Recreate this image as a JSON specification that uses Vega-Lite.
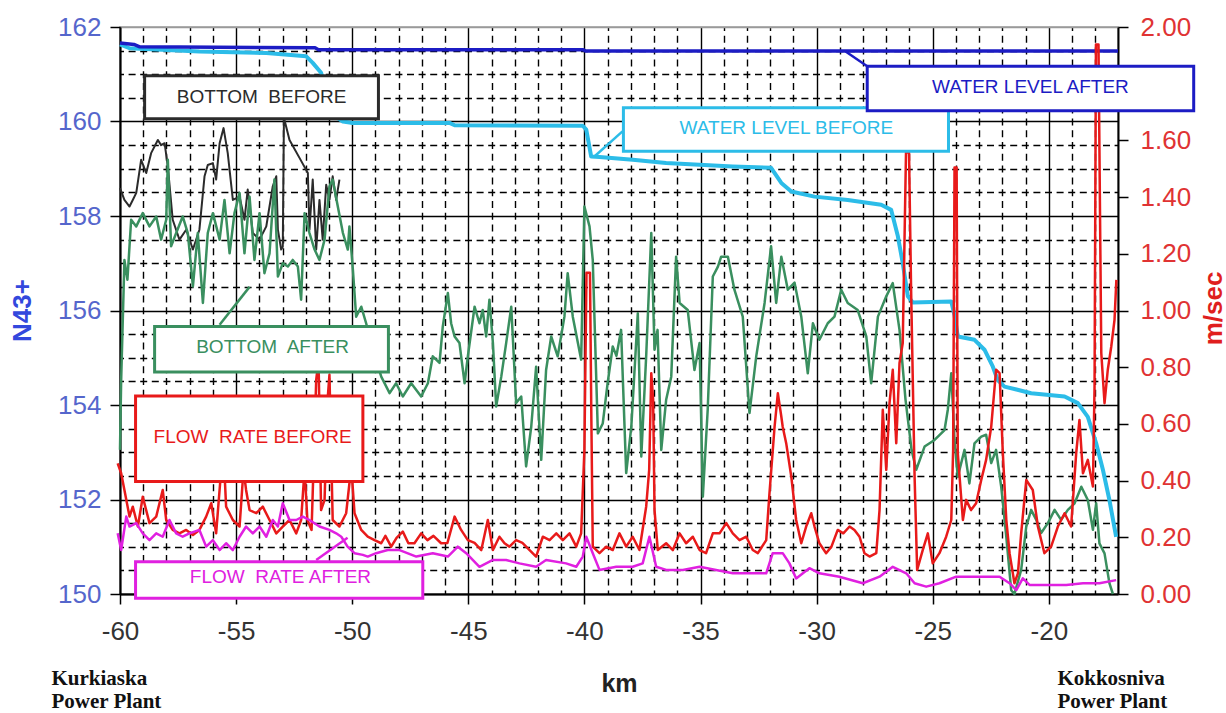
{
"$schema": "https://vega.github.io/schema/vega-lite/v6.json",
"width": 998, "height": 567,
"autosize": {"type": "none"},
"padding": {"left": 120, "top": 27, "right": 108, "bottom": 119},
"background": "white",
"config": {"view": {"stroke": "#9a9a9a", "strokeWidth": 1.5}, "font": "Liberation Sans"},
"datasets": {
"left": [
{"s":"BB","km":-60.00,"N":158.59},{"s":"BB","km":-59.81,"N":158.34},{"s":"BB","km":-59.59,"N":158.20},{"s":"BB","km":-59.45,"N":158.34},{"s":"BB","km":-59.30,"N":158.49},{"s":"BB","km":-59.09,"N":159.19},{"s":"BB","km":-58.87,"N":158.91},{"s":"BB","km":-58.66,"N":159.33},{"s":"BB","km":-58.37,"N":159.61},{"s":"BB","km":-58.23,"N":159.50},{"s":"BB","km":-58.08,"N":159.54},{"s":"BB","km":-57.94,"N":159.05},{"s":"BB","km":-57.73,"N":157.92},{"s":"BB","km":-57.44,"N":157.50},{"s":"BB","km":-57.15,"N":157.71},{"s":"BB","km":-56.86,"N":157.29},{"s":"BB","km":-56.58,"N":157.71},{"s":"BB","km":-56.36,"N":158.84},{"s":"BB","km":-56.22,"N":159.08},{"s":"BB","km":-56.00,"N":159.12},{"s":"BB","km":-55.86,"N":158.77},{"s":"BB","km":-55.71,"N":159.54},{"s":"BB","km":-55.54,"N":159.86},{"s":"BB","km":-55.36,"N":159.33},{"s":"BB","km":-55.14,"N":158.34},{"s":"BB","km":-54.85,"N":158.41},{"s":"BB","km":-54.64,"N":157.92},{"s":"BB","km":-54.50,"N":158.56},{"s":"BB","km":-54.28,"N":157.64},{"s":"BB","km":-53.99,"N":157.50},{"s":"BB","km":-53.70,"N":157.78},{"s":"BB","km":-53.42,"N":158.63},{"s":"BB","km":-53.27,"N":158.84},{"s":"BB","km":-53.20,"N":157.71},{"s":"BB","km":-53.06,"N":157.29},{"s":"BB","km":-52.99,"N":157.35},{"s":"BB","km":-52.94,"N":160.08},{"s":"BB","km":-52.70,"N":159.61},{"s":"BB","km":-52.27,"N":159.23},{"s":"BB","km":-51.91,"N":158.91},{"s":"BB","km":-51.84,"N":157.71},{"s":"BB","km":-51.70,"N":158.77},{"s":"BB","km":-51.55,"N":157.29},{"s":"BB","km":-51.41,"N":158.34},{"s":"BB","km":-51.27,"N":157.50},{"s":"BB","km":-51.12,"N":158.66},{"s":"BB","km":-50.98,"N":158.34},{"s":"BB","km":-50.84,"N":158.84},{"s":"BB","km":-50.69,"N":158.34},{"s":"BB","km":-50.55,"N":158.77},
{"s":"BA","km":-60.00,"N":153.05},{"s":"BA","km":-59.95,"N":154.53},{"s":"BA","km":-59.88,"N":155.80},{"s":"BA","km":-59.81,"N":157.07},{"s":"BA","km":-59.68,"N":156.65},{"s":"BA","km":-59.52,"N":157.92},{"s":"BA","km":-59.30,"N":157.78},{"s":"BA","km":-59.02,"N":158.06},{"s":"BA","km":-58.73,"N":157.78},{"s":"BA","km":-58.44,"N":157.99},{"s":"BA","km":-58.23,"N":157.50},{"s":"BA","km":-58.01,"N":157.92},{"s":"BA","km":-57.94,"N":159.19},{"s":"BA","km":-57.80,"N":157.36},{"s":"BA","km":-57.58,"N":157.64},{"s":"BA","km":-57.30,"N":157.99},{"s":"BA","km":-57.08,"N":157.64},{"s":"BA","km":-56.86,"N":156.51},{"s":"BA","km":-56.65,"N":157.64},{"s":"BA","km":-56.43,"N":156.16},{"s":"BA","km":-56.22,"N":157.64},{"s":"BA","km":-56.00,"N":158.06},{"s":"BA","km":-55.71,"N":157.50},{"s":"BA","km":-55.50,"N":158.34},{"s":"BA","km":-55.28,"N":157.21},{"s":"BA","km":-55.07,"N":158.06},{"s":"BA","km":-54.85,"N":158.49},{"s":"BA","km":-54.64,"N":157.21},{"s":"BA","km":-54.42,"N":158.41},{"s":"BA","km":-54.21,"N":157.07},{"s":"BA","km":-53.99,"N":158.06},{"s":"BA","km":-53.78,"N":156.79},{"s":"BA","km":-53.56,"N":157.21},{"s":"BA","km":-53.35,"N":158.77},{"s":"BA","km":-53.20,"N":156.72},{"s":"BA","km":-52.99,"N":157.00},{"s":"BA","km":-52.77,"N":156.93},{"s":"BA","km":-52.56,"N":157.07},{"s":"BA","km":-52.34,"N":156.93},{"s":"BA","km":-52.20,"N":156.23},{"s":"BA","km":-52.05,"N":158.06},{"s":"BA","km":-51.84,"N":157.64},{"s":"BA","km":-51.62,"N":157.29},{"s":"BA","km":-51.41,"N":157.07},{"s":"BA","km":-51.19,"N":157.50},{"s":"BA","km":-50.98,"N":158.63},{"s":"BA","km":-50.84,"N":158.77},{"s":"BA","km":-50.62,"N":158.20},{"s":"BA","km":-50.40,"N":157.64},{"s":"BA","km":-50.19,"N":157.29},{"s":"BA","km":-50.12,"N":157.78},{"s":"BA","km":-49.97,"N":156.86},{"s":"BA","km":-49.83,"N":155.87},{"s":"BA","km":-49.61,"N":156.08},{"s":"BA","km":-49.40,"N":155.73},{"s":"BA","km":-49.11,"N":155.17},{"s":"BA","km":-48.75,"N":154.60},{"s":"BA","km":-48.39,"N":154.25},{"s":"BA","km":-48.11,"N":154.46},{"s":"BA","km":-47.82,"N":154.18},{"s":"BA","km":-47.46,"N":154.46},{"s":"BA","km":-47.03,"N":154.18},{"s":"BA","km":-46.74,"N":154.46},{"s":"BA","km":-46.53,"N":155.03},{"s":"BA","km":-46.24,"N":154.89},{"s":"BA","km":-46.10,"N":155.66},{"s":"BA","km":-45.88,"N":156.37},{"s":"BA","km":-45.74,"N":155.73},{"s":"BA","km":-45.59,"N":155.45},{"s":"BA","km":-45.38,"N":155.31},{"s":"BA","km":-45.16,"N":154.46},{"s":"BA","km":-45.02,"N":155.03},{"s":"BA","km":-44.73,"N":156.08},{"s":"BA","km":-44.52,"N":155.73},{"s":"BA","km":-44.38,"N":156.01},{"s":"BA","km":-44.23,"N":155.45},{"s":"BA","km":-44.09,"N":156.23},{"s":"BA","km":-43.94,"N":155.31},{"s":"BA","km":-43.80,"N":153.97},{"s":"BA","km":-43.58,"N":154.60},{"s":"BA","km":-43.37,"N":155.31},{"s":"BA","km":-43.15,"N":156.08},{"s":"BA","km":-42.94,"N":154.04},{"s":"BA","km":-42.72,"N":154.18},{"s":"BA","km":-42.51,"N":152.70},{"s":"BA","km":-42.29,"N":153.54},{"s":"BA","km":-42.08,"N":154.81},{"s":"BA","km":-41.86,"N":152.84},{"s":"BA","km":-41.65,"N":154.74},{"s":"BA","km":-41.43,"N":155.45},{"s":"BA","km":-41.15,"N":155.03},{"s":"BA","km":-40.86,"N":155.87},{"s":"BA","km":-40.72,"N":156.79},{"s":"BA","km":-40.50,"N":155.87},{"s":"BA","km":-40.28,"N":155.31},{"s":"BA","km":-40.14,"N":154.96},{"s":"BA","km":-40.00,"N":158.20},{"s":"BA","km":-39.78,"N":157.78},{"s":"BA","km":-39.64,"N":157.07},{"s":"BA","km":-39.42,"N":153.40},{"s":"BA","km":-39.21,"N":153.61},{"s":"BA","km":-39.00,"N":154.46},{"s":"BA","km":-38.78,"N":155.24},{"s":"BA","km":-38.62,"N":155.04},{"s":"BA","km":-38.42,"N":155.59},{"s":"BA","km":-38.20,"N":152.56},{"s":"BA","km":-37.98,"N":153.54},{"s":"BA","km":-37.70,"N":155.94},{"s":"BA","km":-37.55,"N":152.91},{"s":"BA","km":-37.34,"N":155.03},{"s":"BA","km":-37.12,"N":157.64},{"s":"BA","km":-36.98,"N":155.17},{"s":"BA","km":-36.85,"N":155.59},{"s":"BA","km":-36.69,"N":153.05},{"s":"BA","km":-36.48,"N":154.11},{"s":"BA","km":-36.26,"N":154.60},{"s":"BA","km":-36.05,"N":157.14},{"s":"BA","km":-35.90,"N":156.16},{"s":"BA","km":-35.55,"N":156.01},{"s":"BA","km":-35.26,"N":154.74},{"s":"BA","km":-35.04,"N":155.31},{"s":"BA","km":-34.90,"N":152.06},{"s":"BA","km":-34.69,"N":153.90},{"s":"BA","km":-34.47,"N":156.72},{"s":"BA","km":-34.25,"N":156.93},{"s":"BA","km":-34.11,"N":157.14},{"s":"BA","km":-33.82,"N":157.14},{"s":"BA","km":-33.54,"N":156.44},{"s":"BA","km":-33.18,"N":155.87},{"s":"BA","km":-32.89,"N":153.83},{"s":"BA","km":-32.60,"N":155.03},{"s":"BA","km":-32.24,"N":156.16},{"s":"BA","km":-31.96,"N":157.36},{"s":"BA","km":-31.74,"N":156.16},{"s":"BA","km":-31.52,"N":157.14},{"s":"BA","km":-31.24,"N":156.44},{"s":"BA","km":-30.95,"N":156.59},{"s":"BA","km":-30.66,"N":155.87},{"s":"BA","km":-30.38,"N":154.67},{"s":"BA","km":-30.16,"N":155.73},{"s":"BA","km":-29.88,"N":155.38},{"s":"BA","km":-29.52,"N":155.73},{"s":"BA","km":-29.23,"N":155.87},{"s":"BA","km":-28.94,"N":156.44},{"s":"BA","km":-28.66,"N":156.16},{"s":"BA","km":-28.23,"N":156.01},{"s":"BA","km":-27.86,"N":155.45},{"s":"BA","km":-27.65,"N":154.46},{"s":"BA","km":-27.36,"N":155.87},{"s":"BA","km":-27.00,"N":156.30},{"s":"BA","km":-26.72,"N":156.58},{"s":"BA","km":-26.43,"N":155.59},{"s":"BA","km":-26.17,"N":154.11},{"s":"BA","km":-25.91,"N":153.05},{"s":"BA","km":-25.71,"N":152.63},{"s":"BA","km":-25.35,"N":153.12},{"s":"BA","km":-24.92,"N":153.26},{"s":"BA","km":-24.49,"N":153.47},{"s":"BA","km":-24.35,"N":153.90},{"s":"BA","km":-24.20,"N":154.67},{"s":"BA","km":-24.06,"N":153.26},{"s":"BA","km":-23.92,"N":152.48},{"s":"BA","km":-23.63,"N":153.05},{"s":"BA","km":-23.42,"N":152.34},{"s":"BA","km":-23.20,"N":153.19},{"s":"BA","km":-22.91,"N":153.33},{"s":"BA","km":-22.70,"N":153.37},{"s":"BA","km":-22.48,"N":152.77},{"s":"BA","km":-22.27,"N":153.05},{"s":"BA","km":-22.05,"N":152.27},{"s":"BA","km":-21.83,"N":151.21},{"s":"BA","km":-21.62,"N":150.08},{"s":"BA","km":-21.48,"N":150.00},{"s":"BA","km":-21.19,"N":150.51},{"s":"BA","km":-20.97,"N":151.43},{"s":"BA","km":-20.76,"N":151.78},{"s":"BA","km":-20.54,"N":151.57},{"s":"BA","km":-20.33,"N":151.29},{"s":"BA","km":-20.04,"N":151.50},{"s":"BA","km":-19.75,"N":151.78},{"s":"BA","km":-19.47,"N":151.57},{"s":"BA","km":-19.18,"N":151.78},{"s":"BA","km":-18.89,"N":151.92},{"s":"BA","km":-18.60,"N":152.27},{"s":"BA","km":-18.32,"N":151.99},{"s":"BA","km":-18.10,"N":151.36},{"s":"BA","km":-17.96,"N":151.92},{"s":"BA","km":-17.82,"N":151.07},{"s":"BA","km":-17.60,"N":150.86},{"s":"BA","km":-17.39,"N":150.23},{"s":"BA","km":-17.24,"N":150.00},
{"s":"WB","km":-60.00,"N":161.63},{"s":"WB","km":-59.59,"N":161.55},{"s":"WB","km":-56.58,"N":161.48},{"s":"WB","km":-53.70,"N":161.45},{"s":"WB","km":-51.98,"N":161.38},{"s":"WB","km":-51.70,"N":161.24},{"s":"WB","km":-51.34,"N":161.03},{"s":"WB","km":-51.00,"N":160.50},{"s":"WB","km":-50.70,"N":160.10},{"s":"WB","km":-50.40,"N":160.00},{"s":"WB","km":-49.97,"N":159.97},{"s":"WB","km":-45.81,"N":159.97},{"s":"WB","km":-45.59,"N":159.92},{"s":"WB","km":-40.07,"N":159.91},{"s":"WB","km":-39.92,"N":159.83},{"s":"WB","km":-39.71,"N":159.26},{"s":"WB","km":-39.35,"N":159.25},{"s":"WB","km":-37.92,"N":159.19},{"s":"WB","km":-36.48,"N":159.12},{"s":"WB","km":-33.61,"N":159.05},{"s":"WB","km":-31.96,"N":159.02},{"s":"WB","km":-31.52,"N":158.70},{"s":"WB","km":-31.09,"N":158.52},{"s":"WB","km":-30.09,"N":158.41},{"s":"WB","km":-28.66,"N":158.34},{"s":"WB","km":-27.22,"N":158.24},{"s":"WB","km":-26.79,"N":158.13},{"s":"WB","km":-26.50,"N":157.57},{"s":"WB","km":-26.29,"N":157.00},{"s":"WB","km":-26.07,"N":156.30},{"s":"WB","km":-25.86,"N":156.17},{"s":"WB","km":-24.20,"N":156.19},{"s":"WB","km":-24.06,"N":155.90},{"s":"WB","km":-23.92,"N":155.45},{"s":"WB","km":-23.20,"N":155.38},{"s":"WB","km":-22.77,"N":155.17},{"s":"WB","km":-22.41,"N":154.81},{"s":"WB","km":-22.20,"N":154.53},{"s":"WB","km":-21.91,"N":154.39},{"s":"WB","km":-20.76,"N":154.25},{"s":"WB","km":-19.32,"N":154.18},{"s":"WB","km":-18.75,"N":154.04},{"s":"WB","km":-18.32,"N":153.75},{"s":"WB","km":-17.96,"N":153.19},{"s":"WB","km":-17.67,"N":152.63},{"s":"WB","km":-17.39,"N":151.99},{"s":"WB","km":-17.10,"N":151.21},
{"s":"WA","km":-60.00,"N":161.66},{"s":"WA","km":-59.40,"N":161.63},{"s":"WA","km":-59.15,"N":161.58},{"s":"WA","km":-51.60,"N":161.56},{"s":"WA","km":-51.45,"N":161.52},{"s":"WA","km":-40.05,"N":161.52},{"s":"WA","km":-39.95,"N":161.49},{"s":"WA","km":-17.02,"N":161.49}
],
"right": [
{"s":"FB","km":-60.1,"f":0.461},{"s":"FB","km":-59.95,"f":0.426},{"s":"FB","km":-59.81,"f":0.367},{"s":"FB","km":-59.59,"f":0.273},{"s":"FB","km":-59.45,"f":0.308},{"s":"FB","km":-59.23,"f":0.238},{"s":"FB","km":-59.02,"f":0.343},{"s":"FB","km":-58.73,"f":0.250},{"s":"FB","km":-58.44,"f":0.273},{"s":"FB","km":-58.16,"f":0.367},{"s":"FB","km":-58.01,"f":0.261},{"s":"FB","km":-57.73,"f":0.226},{"s":"FB","km":-57.44,"f":0.214},{"s":"FB","km":-57.15,"f":0.226},{"s":"FB","km":-56.86,"f":0.208},{"s":"FB","km":-56.58,"f":0.226},{"s":"FB","km":-56.29,"f":0.273},{"s":"FB","km":-56.07,"f":0.320},{"s":"FB","km":-55.86,"f":0.214},{"s":"FB","km":-55.64,"f":0.440},{"s":"FB","km":-55.54,"f":0.500},{"s":"FB","km":-55.43,"f":0.308},{"s":"FB","km":-55.14,"f":0.261},{"s":"FB","km":-54.85,"f":0.238},{"s":"FB","km":-54.68,"f":0.440},{"s":"FB","km":-54.57,"f":0.367},{"s":"FB","km":-54.42,"f":0.296},{"s":"FB","km":-54.13,"f":0.285},{"s":"FB","km":-53.85,"f":0.308},{"s":"FB","km":-53.56,"f":0.261},{"s":"FB","km":-53.27,"f":0.214},{"s":"FB","km":-52.99,"f":0.238},{"s":"FB","km":-52.70,"f":0.261},{"s":"FB","km":-52.41,"f":0.214},{"s":"FB","km":-52.20,"f":0.261},{"s":"FB","km":-52.05,"f":0.440},{"s":"FB","km":-51.93,"f":0.261},{"s":"FB","km":-51.75,"f":0.226},{"s":"FB","km":-51.55,"f":0.755},{"s":"FB","km":-51.45,"f":0.826},{"s":"FB","km":-51.34,"f":0.296},{"s":"FB","km":-51.19,"f":0.332},{"s":"FB","km":-51.06,"f":0.685},{"s":"FB","km":-50.98,"f":0.773},{"s":"FB","km":-50.84,"f":0.261},{"s":"FB","km":-50.55,"f":0.238},{"s":"FB","km":-50.26,"f":0.285},{"s":"FB","km":-50.04,"f":0.450},{"s":"FB","km":-49.90,"f":0.285},{"s":"FB","km":-49.61,"f":0.226},{"s":"FB","km":-49.33,"f":0.202},{"s":"FB","km":-49.04,"f":0.190},{"s":"FB","km":-48.75,"f":0.179},{"s":"FB","km":-48.57,"f":0.205},{"s":"FB","km":-48.32,"f":0.167},{"s":"FB","km":-48.09,"f":0.198},{"s":"FB","km":-47.82,"f":0.220},{"s":"FB","km":-47.58,"f":0.179},{"s":"FB","km":-47.32,"f":0.179},{"s":"FB","km":-47.03,"f":0.214},{"s":"FB","km":-46.76,"f":0.190},{"s":"FB","km":-46.50,"f":0.205},{"s":"FB","km":-46.17,"f":0.179},{"s":"FB","km":-45.90,"f":0.180},{"s":"FB","km":-45.59,"f":0.273},{"s":"FB","km":-45.31,"f":0.226},{"s":"FB","km":-45.02,"f":0.190},{"s":"FB","km":-44.73,"f":0.180},{"s":"FB","km":-44.44,"f":0.155},{"s":"FB","km":-44.16,"f":0.261},{"s":"FB","km":-43.94,"f":0.155},{"s":"FB","km":-43.66,"f":0.202},{"s":"FB","km":-43.44,"f":0.179},{"s":"FB","km":-43.23,"f":0.167},{"s":"FB","km":-42.94,"f":0.190},{"s":"FB","km":-42.67,"f":0.180},{"s":"FB","km":-42.36,"f":0.155},{"s":"FB","km":-42.08,"f":0.132},{"s":"FB","km":-41.79,"f":0.202},{"s":"FB","km":-41.50,"f":0.190},{"s":"FB","km":-41.21,"f":0.214},{"s":"FB","km":-40.93,"f":0.190},{"s":"FB","km":-40.64,"f":0.214},{"s":"FB","km":-40.35,"f":0.167},{"s":"FB","km":-40.14,"f":0.214},{"s":"FB","km":-40.00,"f":0.508},{"s":"FB","km":-39.91,"f":1.133},{"s":"FB","km":-39.76,"f":1.133},{"s":"FB","km":-39.70,"f":0.614},{"s":"FB","km":-39.64,"f":0.167},{"s":"FB","km":-39.35,"f":0.144},{"s":"FB","km":-39.06,"f":0.167},{"s":"FB","km":-38.78,"f":0.155},{"s":"FB","km":-38.49,"f":0.214},{"s":"FB","km":-38.20,"f":0.167},{"s":"FB","km":-37.92,"f":0.202},{"s":"FB","km":-37.63,"f":0.155},{"s":"FB","km":-37.34,"f":0.308},{"s":"FB","km":-37.21,"f":0.438},{"s":"FB","km":-37.12,"f":0.779},{"s":"FB","km":-37.04,"f":0.685},{"s":"FB","km":-36.98,"f":0.296},{"s":"FB","km":-36.84,"f":0.155},{"s":"FB","km":-36.48,"f":0.179},{"s":"FB","km":-36.19,"f":0.155},{"s":"FB","km":-35.90,"f":0.214},{"s":"FB","km":-35.62,"f":0.179},{"s":"FB","km":-35.33,"f":0.202},{"s":"FB","km":-35.04,"f":0.155},{"s":"FB","km":-34.76,"f":0.144},{"s":"FB","km":-34.47,"f":0.214},{"s":"FB","km":-34.18,"f":0.214},{"s":"FB","km":-33.89,"f":0.250},{"s":"FB","km":-33.61,"f":0.214},{"s":"FB","km":-33.32,"f":0.190},{"s":"FB","km":-33.03,"f":0.202},{"s":"FB","km":-32.75,"f":0.155},{"s":"FB","km":-32.53,"f":0.144},{"s":"FB","km":-32.17,"f":0.190},{"s":"FB","km":-32.03,"f":0.355},{"s":"FB","km":-31.81,"f":0.590},{"s":"FB","km":-31.67,"f":0.708},{"s":"FB","km":-31.52,"f":0.626},{"s":"FB","km":-31.46,"f":0.590},{"s":"FB","km":-31.31,"f":0.532},{"s":"FB","km":-31.09,"f":0.414},{"s":"FB","km":-30.88,"f":0.261},{"s":"FB","km":-30.66,"f":0.179},{"s":"FB","km":-30.45,"f":0.238},{"s":"FB","km":-30.23,"f":0.285},{"s":"FB","km":-30.09,"f":0.238},{"s":"FB","km":-29.88,"f":0.179},{"s":"FB","km":-29.59,"f":0.144},{"s":"FB","km":-29.36,"f":0.167},{"s":"FB","km":-29.09,"f":0.226},{"s":"FB","km":-28.85,"f":0.214},{"s":"FB","km":-28.58,"f":0.238},{"s":"FB","km":-28.37,"f":0.226},{"s":"FB","km":-28.15,"f":0.202},{"s":"FB","km":-27.94,"f":0.144},{"s":"FB","km":-27.72,"f":0.132},{"s":"FB","km":-27.43,"f":0.144},{"s":"FB","km":-27.29,"f":0.296},{"s":"FB","km":-27.15,"f":0.650},{"s":"FB","km":-27.00,"f":0.438},{"s":"FB","km":-26.86,"f":0.673},{"s":"FB","km":-26.72,"f":0.791},{"s":"FB","km":-26.57,"f":0.532},{"s":"FB","km":-26.43,"f":0.814},{"s":"FB","km":-26.29,"f":0.885},{"s":"FB","km":-26.15,"f":1.557},{"s":"FB","km":-26.02,"f":1.557},{"s":"FB","km":-25.93,"f":1.073},{"s":"FB","km":-25.78,"f":0.414},{"s":"FB","km":-25.67,"f":0.085},{"s":"FB","km":-25.43,"f":0.155},{"s":"FB","km":-25.21,"f":0.214},{"s":"FB","km":-25.00,"f":0.108},{"s":"FB","km":-24.71,"f":0.144},{"s":"FB","km":-24.42,"f":0.202},{"s":"FB","km":-24.20,"f":0.261},{"s":"FB","km":-24.12,"f":0.508},{"s":"FB","km":-24.06,"f":1.504},{"s":"FB","km":-23.97,"f":1.504},{"s":"FB","km":-23.92,"f":0.497},{"s":"FB","km":-23.70,"f":0.261},{"s":"FB","km":-23.56,"f":0.332},{"s":"FB","km":-23.35,"f":0.296},{"s":"FB","km":-23.13,"f":0.320},{"s":"FB","km":-22.91,"f":0.402},{"s":"FB","km":-22.70,"f":0.473},{"s":"FB","km":-22.48,"f":0.590},{"s":"FB","km":-22.27,"f":0.791},{"s":"FB","km":-22.12,"f":0.779},{"s":"FB","km":-21.98,"f":0.497},{"s":"FB","km":-21.83,"f":0.261},{"s":"FB","km":-21.69,"f":0.144},{"s":"FB","km":-21.48,"f":0.038},{"s":"FB","km":-21.33,"f":0.073},{"s":"FB","km":-21.19,"f":0.214},{"s":"FB","km":-20.97,"f":0.402},{"s":"FB","km":-20.69,"f":0.367},{"s":"FB","km":-20.47,"f":0.238},{"s":"FB","km":-20.19,"f":0.144},{"s":"FB","km":-19.90,"f":0.167},{"s":"FB","km":-19.61,"f":0.238},{"s":"FB","km":-19.32,"f":0.285},{"s":"FB","km":-19.04,"f":0.238},{"s":"FB","km":-18.82,"f":0.497},{"s":"FB","km":-18.68,"f":0.614},{"s":"FB","km":-18.53,"f":0.426},{"s":"FB","km":-18.32,"f":0.473},{"s":"FB","km":-18.10,"f":0.379},{"s":"FB","km":-18.03,"f":0.732},{"s":"FB","km":-17.97,"f":1.938},{"s":"FB","km":-17.86,"f":1.938},{"s":"FB","km":-17.74,"f":0.850},{"s":"FB","km":-17.60,"f":0.673},{"s":"FB","km":-17.46,"f":0.791},{"s":"FB","km":-17.31,"f":0.873},{"s":"FB","km":-17.17,"f":0.967},{"s":"FB","km":-17.09,"f":1.108},
{"s":"FA","km":-60.1,"f":0.214},{"s":"FA","km":-59.95,"f":0.155},{"s":"FA","km":-59.73,"f":0.273},{"s":"FA","km":-59.59,"f":0.238},{"s":"FA","km":-59.30,"f":0.250},{"s":"FA","km":-59.02,"f":0.214},{"s":"FA","km":-58.73,"f":0.190},{"s":"FA","km":-58.44,"f":0.214},{"s":"FA","km":-58.16,"f":0.202},{"s":"FA","km":-57.87,"f":0.261},{"s":"FA","km":-57.58,"f":0.214},{"s":"FA","km":-57.30,"f":0.202},{"s":"FA","km":-57.01,"f":0.214},{"s":"FA","km":-56.58,"f":0.226},{"s":"FA","km":-56.29,"f":0.167},{"s":"FA","km":-56.00,"f":0.190},{"s":"FA","km":-55.71,"f":0.155},{"s":"FA","km":-55.43,"f":0.179},{"s":"FA","km":-55.14,"f":0.155},{"s":"FA","km":-54.85,"f":0.202},{"s":"FA","km":-54.57,"f":0.238},{"s":"FA","km":-54.28,"f":0.214},{"s":"FA","km":-53.99,"f":0.238},{"s":"FA","km":-53.70,"f":0.202},{"s":"FA","km":-53.42,"f":0.261},{"s":"FA","km":-53.20,"f":0.238},{"s":"FA","km":-52.99,"f":0.320},{"s":"FA","km":-52.70,"f":0.261},{"s":"FA","km":-52.41,"f":0.261},{"s":"FA","km":-52.13,"f":0.273},{"s":"FA","km":-51.84,"f":0.261},{"s":"FA","km":-51.41,"f":0.238},{"s":"FA","km":-50.98,"f":0.226},{"s":"FA","km":-50.69,"f":0.214},{"s":"FA","km":-50.47,"f":0.202},{"s":"FA","km":-50.20,"f":0.167},{"s":"FA","km":-49.90,"f":0.144},{"s":"FA","km":-49.54,"f":0.138},{"s":"FA","km":-49.33,"f":0.132},{"s":"FA","km":-48.97,"f":0.144},{"s":"FA","km":-48.47,"f":0.155},{"s":"FA","km":-47.96,"f":0.155},{"s":"FA","km":-47.24,"f":0.132},{"s":"FA","km":-46.53,"f":0.144},{"s":"FA","km":-45.88,"f":0.132},{"s":"FA","km":-45.45,"f":0.167},{"s":"FA","km":-45.09,"f":0.144},{"s":"FA","km":-44.52,"f":0.096},{"s":"FA","km":-43.94,"f":0.120},{"s":"FA","km":-43.37,"f":0.120},{"s":"FA","km":-42.80,"f":0.108},{"s":"FA","km":-42.08,"f":0.096},{"s":"FA","km":-41.65,"f":0.120},{"s":"FA","km":-40.79,"f":0.108},{"s":"FA","km":-40.35,"f":0.096},{"s":"FA","km":-40.07,"f":0.132},{"s":"FA","km":-39.92,"f":0.202},{"s":"FA","km":-39.64,"f":0.144},{"s":"FA","km":-39.35,"f":0.085},{"s":"FA","km":-38.63,"f":0.096},{"s":"FA","km":-37.92,"f":0.096},{"s":"FA","km":-37.49,"f":0.108},{"s":"FA","km":-37.20,"f":0.202},{"s":"FA","km":-36.91,"f":0.096},{"s":"FA","km":-36.48,"f":0.085},{"s":"FA","km":-35.76,"f":0.085},{"s":"FA","km":-35.04,"f":0.096},{"s":"FA","km":-34.33,"f":0.085},{"s":"FA","km":-33.61,"f":0.073},{"s":"FA","km":-32.89,"f":0.073},{"s":"FA","km":-32.17,"f":0.073},{"s":"FA","km":-31.89,"f":0.144},{"s":"FA","km":-31.46,"f":0.144},{"s":"FA","km":-31.17,"f":0.108},{"s":"FA","km":-30.88,"f":0.055},{"s":"FA","km":-30.59,"f":0.073},{"s":"FA","km":-30.31,"f":0.091},{"s":"FA","km":-29.88,"f":0.073},{"s":"FA","km":-29.02,"f":0.061},{"s":"FA","km":-28.01,"f":0.038},{"s":"FA","km":-27.29,"f":0.061},{"s":"FA","km":-26.72,"f":0.096},{"s":"FA","km":-26.14,"f":0.073},{"s":"FA","km":-25.78,"f":0.038},{"s":"FA","km":-25.28,"f":0.026},{"s":"FA","km":-24.71,"f":0.038},{"s":"FA","km":-23.99,"f":0.061},{"s":"FA","km":-23.28,"f":0.061},{"s":"FA","km":-22.70,"f":0.061},{"s":"FA","km":-22.12,"f":0.061},{"s":"FA","km":-21.69,"f":0.038},{"s":"FA","km":-21.40,"f":0.014},{"s":"FA","km":-21.12,"f":0.055},{"s":"FA","km":-20.83,"f":0.032},{"s":"FA","km":-20.11,"f":0.032},{"s":"FA","km":-19.25,"f":0.032},{"s":"FA","km":-18.53,"f":0.038},{"s":"FA","km":-17.82,"f":0.038},{"s":"FA","km":-17.10,"f":0.049}
],
"boxes": [
{"s":"BB","km":-58.94,"km2":-48.87,"N":160.97,"N2":160.06},
{"s":"WB","km":-38.32,"km2":-24.32,"N":160.29,"N2":159.37},
{"s":"WA","km":-27.82,"km2":-13.76,"N":161.17,"N2":160.23},
{"s":"BA","km":-58.51,"km2":-48.44,"N":155.66,"N2":154.70},
{"s":"FB","km":-59.33,"km2":-49.54,"N":154.19,"N2":152.38},
{"s":"FA","km":-59.33,"km2":-46.96,"N":150.68,"N2":149.91}
],
"leaders": [
{"s":"WB","km":-38.36,"km2":-39.57,"N":159.79,"N2":159.26},
{"s":"WA","km":-28.75,"km2":-27.82,"N":161.48,"N2":161.17},
{"s":"BA","km":-55.71,"km2":-54.42,"N":155.70,"N2":156.50},
{"s":"FA","km":-51.55,"km2":-50.20,"N":150.72,"N2":151.19}
],
"boxlabels": [
{"s":"BB","label":"BOTTOM\u00a0 BEFORE","km":-53.90,"N":160.52},
{"s":"WB","label":"WATER LEVEL BEFORE","km":-31.30,"N":159.86},
{"s":"WA","label":"WATER LEVEL AFTER","km":-20.79,"N":160.73},
{"s":"BA","label":"BOTTOM\u00a0 AFTER","km":-53.43,"N":155.22},
{"s":"FB","label":"FLOW\u00a0 RATE BEFORE","km":-54.29,"N":153.33},
{"s":"FA","label":"FLOW\u00a0 RATE AFTER","km":-53.09,"N":150.36}
],
"notes": [
{"label":"Kurkiaska\nPower Plant","km":-62.95,"N":148.08},
{"label":"Kokkosniva\nPower Plant","km":-19.63,"N":148.08}
]
},
"encoding": {
"x": {"field": "km", "type": "quantitative",
 "scale": {"domain": [-60, -17.02], "nice": false, "zero": false},
 "axis": {"orient": "bottom",
  "values": [-60,-59,-58,-57,-56,-55,-54,-53,-52,-51,-50,-49,-48,-47,-46,-45,-44,-43,-42,-41,-40,-39,-38,-37,-36,-35,-34,-33,-32,-31,-30,-29,-28,-27,-26,-25,-24,-23,-22,-21,-20,-19,-18],
  "labelExpr": "datum.value % 5 === 0 ? '' + datum.value : ''",
  "labelFlush": false, "labelOverlap": false,
  "labelFont": "Liberation Sans", "labelFontSize": 26, "labelColor": "#333333", "labelPadding": 14,
  "tickSize": 10, "tickWidth": 1.5, "tickColor": "black",
  "tickOpacity": {"condition": {"test": "datum.value % 5 !== 0", "value": 0}, "value": 1},
  "domainColor": "black", "domainWidth": 2,
  "grid": true, "gridColor": "black", "gridWidth": 1.4,
  "gridDash": {"condition": {"test": "datum.value % 5 !== 0", "value": [7, 4.8]}, "value": []},
  "gridDashOffset": 3.5,
  "title": "km", "titleFont": "Liberation Sans", "titleFontSize": 25, "titleFontWeight": "bold", "titleColor": "#222222",
  "titleX": 499, "titleY": 89, "titleAlign": "center", "titleBaseline": "middle"}}
},
"layer": [
{
 "data": {"name": "left"},
 "encoding": {"y": {"field": "N", "type": "quantitative",
  "scale": {"domain": [150, 162], "nice": false, "zero": false},
  "axis": {"orient": "left",
   "values": [150,150.5,151,151.5,152,152.5,153,153.5,154,154.5,155,155.5,156,156.5,157,157.5,158,158.5,159,159.5,160,160.5,161,161.5,162],
   "labelExpr": "datum.value % 2 === 0 ? '' + datum.value : ''",
   "labelFlush": false, "labelOverlap": false,
   "labelFont": "Liberation Sans", "labelFontSize": 26, "labelColor": "#5566cc", "labelPadding": 9,
   "tickSize": 10, "tickWidth": 1.5, "tickColor": "black",
   "tickOpacity": {"condition": {"test": "datum.value % 2 !== 0", "value": 0}, "value": 1},
   "domainColor": "black", "domainWidth": 2,
   "grid": true, "gridWidth": 1.4,
   "gridColor": {"condition": {"test": "datum.value === 162", "value": "#9a9a9a"}, "value": "black"},
   "gridDash": {"condition": {"test": "datum.value % 2 !== 0", "value": [7, 4.6]}, "value": []},
   "gridDashOffset": 3.5,
   "title": "N43+", "titleFont": "Liberation Sans", "titleFontSize": 26, "titleFontWeight": "bold", "titleColor": "#3348dd",
   "titleAngle": 270, "titleX": -98, "titleY": 283, "titleAlign": "center", "titleBaseline": "middle"}}},
 "layer": [
  {"transform": [{"filter": "datum.s === 'BB'"}], "mark": {"type": "line", "color": "#2b2b2b", "strokeWidth": 2, "strokeJoin": "round"}},
  {"transform": [{"filter": "datum.s === 'BA'"}], "mark": {"type": "line", "color": "#3a8f5f", "strokeWidth": 2.5, "strokeJoin": "round"}},
  {"transform": [{"filter": "datum.s === 'WB'"}], "mark": {"type": "line", "color": "#2cbce8", "strokeWidth": 4, "strokeJoin": "round"}},
  {"transform": [{"filter": "datum.s === 'WA'"}], "mark": {"type": "line", "color": "#1c1cc4", "strokeWidth": 3.5, "strokeJoin": "round"}}
 ]
},
{
 "data": {"name": "right"},
 "encoding": {"y": {"field": "f", "type": "quantitative",
  "scale": {"domain": [0, 2], "nice": false, "zero": false},
  "axis": {"orient": "right",
   "values": [0,0.2,0.4,0.6,0.8,1,1.2,1.4,1.6,1.8,2],
   "format": ".2f", "labelFlush": false, "labelOverlap": false,
   "labelFont": "Liberation Sans", "labelFontSize": 26, "labelColor": "#e03333", "labelPadding": 12,
   "tickSize": 10, "tickWidth": 1.5, "tickColor": "black",
   "domainColor": "black", "domainWidth": 2, "grid": false,
   "title": "m/sec", "titleFont": "Liberation Sans", "titleFontSize": 26, "titleFontWeight": "bold", "titleColor": "#e01e1e",
   "titleAngle": 270, "titleX": 95, "titleY": 281, "titleAlign": "center", "titleBaseline": "middle"}}},
 "layer": [
  {"transform": [{"filter": "datum.s === 'FB'"}], "mark": {"type": "line", "color": "#e81a1a", "strokeWidth": 2.5, "strokeJoin": "round"}},
  {"transform": [{"filter": "datum.s === 'FA'"}], "mark": {"type": "line", "color": "#e020e0", "strokeWidth": 2.5, "strokeJoin": "round"}}
 ]
},
{
 "encoding": {"y": {"field": "N", "type": "quantitative", "scale": {"domain": [150, 162], "nice": false, "zero": false}, "axis": null}},
 "layer": [
  {"data": {"name": "boxes"}, "mark": {"type": "rect", "fill": "white", "strokeWidth": 3},
   "encoding": {"x2": {"field": "km2"}, "y2": {"field": "N2"},
    "stroke": {"field": "s", "type": "nominal", "legend": null,
     "scale": {"domain": ["BB","BA","WB","WA","FB","FA"], "range": ["#2b2b2b","#3a8f5f","#2cbce8","#1c1cc4","#e81a1a","#e020e0"]}}}},
  {"data": {"name": "leaders"}, "mark": {"type": "rule", "strokeWidth": 2.5},
   "encoding": {"x2": {"field": "km2"}, "y2": {"field": "N2"},
    "color": {"field": "s", "type": "nominal", "legend": null,
     "scale": {"domain": ["BB","BA","WB","WA","FB","FA"], "range": ["#2b2b2b","#3a8f5f","#2cbce8","#1c1cc4","#e81a1a","#e020e0"]}}}},
  {"data": {"name": "boxlabels"}, "mark": {"type": "text", "font": "Liberation Sans", "fontSize": 19, "align": "center", "baseline": "middle"},
   "encoding": {"text": {"field": "label"},
    "color": {"field": "s", "type": "nominal", "legend": null,
     "scale": {"domain": ["BB","BA","WB","WA","FB","FA"], "range": ["#333333","#3a8f5f","#3ab8e0","#2020c0","#d82020","#d02cd0"]}}}},
  {"data": {"name": "notes"}, "mark": {"type": "text", "font": "Liberation Serif", "fontWeight": "bold", "fontSize": 21, "align": "left", "baseline": "alphabetic", "lineBreak": "\n", "lineHeight": 23, "color": "#111111"},
   "encoding": {"text": {"field": "label"}}}
 ]
}
],
"resolve": {"scale": {"y": "independent"}}
}
